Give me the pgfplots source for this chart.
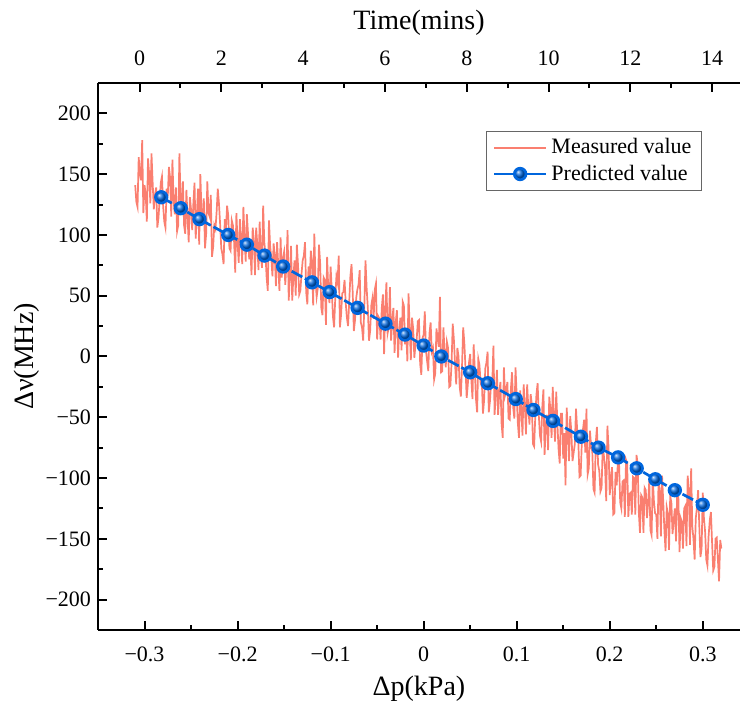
\documentclass[border=0pt]{standalone}
\usepackage{fontspec}
\setmainfont{Liberation Serif}
\usepackage{pgfplots}
\pgfplotsset{compat=1.18}
\definecolor{meascol}{RGB}{250,127,112}
\definecolor{predcol}{RGB}{0,102,221}
\begin{document}
\begin{tikzpicture}
\path[use as bounding box] (-49pt,-37pt) rectangle (321pt,315pt);
\begin{axis}[
  at={(0pt,0pt)}, anchor=south west,
  scale only axis, width=321pt, height=273.5pt,
  xmin=-0.35, xmax=0.34, ymin=-225, ymax=225,
  axis x line*=bottom, axis y line*=left,
  axis line style={line width=1pt, -},
  tick align=inside,
  major tick length=4.5pt, minor tick length=2.3pt,
  every tick/.style={black, line width=1pt},
  xtick={-0.3,-0.2,-0.1,0,0.1,0.2,0.3},
  xticklabels={−0.3,−0.2,−0.1,0,0.1,0.2,0.3},
  minor x tick num=1,
  ytick={-200,-150,-100,-50,0,50,100,150,200},
  yticklabels={−200,−150,−100,−50,0,50,100,150,200},
  minor y tick num=1,
  tick label style={font=\fontsize{11}{13}\selectfont},
  xticklabel style={yshift=-5pt},
  label style={font=\fontsize{14}{16}\selectfont},
  xlabel={Δp(kPa)}, ylabel={Δν(MHz)},
  ylabel style={yshift=-4pt},
  legend style={at={(rel axis cs:0.9408,0.9122)}, anchor=north east,
    draw=black!60, line width=0.6pt, font=\fontsize{11}{12.5}\selectfont,
    inner xsep=3pt, inner ysep=1.5pt, row sep=0pt},
  legend cell align=left,
  legend image code/.code={\draw[mark repeat=2,mark phase=2,#1] plot coordinates {(0pt,0pt) (13pt,0pt) (26pt,0pt)};},
  legend image post style={solid},
]
\addplot[meascol, line width=0.85pt, no marks] coordinates {
(-0.31000,141) (-0.30875,127) (-0.30750,123) (-0.30625,164) (-0.30500,151) (-0.30375,145) (-0.30250,178) (-0.30125,118) (-0.30000,141) (-0.29875,134)
(-0.29750,111) (-0.29625,163) (-0.29500,150) (-0.29375,126) (-0.29250,167) (-0.29125,143) (-0.29000,121) (-0.28875,133) (-0.28750,139) (-0.28625,106)
(-0.28500,114) (-0.28375,129) (-0.28250,143) (-0.28125,148) (-0.28000,124) (-0.27875,111) (-0.27750,106) (-0.27625,138) (-0.27500,132) (-0.27375,156)
(-0.27250,147) (-0.27125,115) (-0.27000,162) (-0.26875,128) (-0.26750,117) (-0.26625,139) (-0.26500,103) (-0.26375,108) (-0.26250,167) (-0.26125,129)
(-0.26000,123) (-0.25875,144) (-0.25750,108) (-0.25625,101) (-0.25500,137) (-0.25375,114) (-0.25250,94) (-0.25125,131) (-0.25000,121) (-0.24875,104)
(-0.24750,126) (-0.24625,143) (-0.24500,97) (-0.24375,116) (-0.24250,138) (-0.24125,92) (-0.24000,150) (-0.23875,119) (-0.23750,110) (-0.23625,130)
(-0.23500,89) (-0.23375,101) (-0.23250,144) (-0.23125,118) (-0.23000,115) (-0.22875,133) (-0.22750,82) (-0.22625,90) (-0.22500,108) (-0.22375,105)
(-0.22250,119) (-0.22125,138) (-0.22000,126) (-0.21875,109) (-0.21750,89) (-0.21625,84) (-0.21500,76) (-0.21375,113) (-0.21250,105) (-0.21125,124)
(-0.21000,116) (-0.20875,89) (-0.20750,87) (-0.20625,112) (-0.20500,108) (-0.20375,95) (-0.20250,69) (-0.20125,118) (-0.20000,94) (-0.19875,77)
(-0.19750,113) (-0.19625,98) (-0.19500,76) (-0.19375,123) (-0.19250,98) (-0.19125,78) (-0.19000,117) (-0.18875,101) (-0.18750,80) (-0.18625,89)
(-0.18500,67) (-0.18375,106) (-0.18250,96) (-0.18125,67) (-0.18000,106) (-0.17875,92) (-0.17750,71) (-0.17625,111) (-0.17500,84) (-0.17375,73)
(-0.17250,124) (-0.17125,94) (-0.17000,84) (-0.16875,65) (-0.16750,54) (-0.16625,112) (-0.16500,91) (-0.16375,81) (-0.16250,66) (-0.16125,93)
(-0.16000,83) (-0.15875,58) (-0.15750,94) (-0.15625,75) (-0.15500,54) (-0.15375,98) (-0.15250,65) (-0.15125,81) (-0.15000,86) (-0.14875,59)
(-0.14750,75) (-0.14625,104) (-0.14500,46) (-0.14375,67) (-0.14250,91) (-0.14125,46) (-0.14000,66) (-0.13875,79) (-0.13750,50) (-0.13625,92)
(-0.13500,75) (-0.13375,51) (-0.13250,54) (-0.13125,68) (-0.13000,79) (-0.12875,83) (-0.12750,94) (-0.12625,53) (-0.12500,43) (-0.12375,74)
(-0.12250,62) (-0.12125,87) (-0.12000,79) (-0.11875,42) (-0.11750,101) (-0.11625,63) (-0.11500,49) (-0.11375,56) (-0.11250,92) (-0.11125,77)
(-0.11000,40) (-0.10875,34) (-0.10750,65) (-0.10625,63) (-0.10500,26) (-0.10375,82) (-0.10250,55) (-0.10125,44) (-0.10000,74) (-0.09875,55)
(-0.09750,33) (-0.09625,24) (-0.09500,48) (-0.09375,66) (-0.09250,61) (-0.09125,83) (-0.09000,24) (-0.08875,34) (-0.08750,52) (-0.08625,53)
(-0.08500,63) (-0.08375,44) (-0.08250,32) (-0.08125,25) (-0.08000,45) (-0.07875,66) (-0.07750,76) (-0.07625,53) (-0.07500,21) (-0.07375,30)
(-0.07250,48) (-0.07125,55) (-0.07000,59) (-0.06875,71) (-0.06750,28) (-0.06625,24) (-0.06500,13) (-0.06375,41) (-0.06250,79) (-0.06125,56)
(-0.06000,40) (-0.05875,13) (-0.05750,21) (-0.05625,42) (-0.05500,48) (-0.05375,31) (-0.05250,55) (-0.05125,60) (-0.05000,14) (-0.04875,33)
(-0.04750,31) (-0.04625,14) (-0.04500,40) (-0.04375,51) (-0.04250,2) (-0.04125,40) (-0.04000,61) (-0.03875,19) (-0.03750,24) (-0.03625,57)
(-0.03500,13) (-0.03375,30) (-0.03250,40) (-0.03125,3) (-0.03000,28) (-0.02875,38) (-0.02750,-1) (-0.02625,21) (-0.02500,32) (-0.02375,5)
(-0.02250,45) (-0.02125,42) (-0.02000,10) (-0.01875,21) (-0.01750,-4) (-0.01625,52) (-0.01500,23) (-0.01375,-3) (-0.01250,32) (-0.01125,23)
(-0.01000,-1) (-0.00875,10) (-0.00750,14) (-0.00625,29) (-0.00500,30) (-0.00375,-6) (-0.00250,-15) (-0.00125,15) (0.00000,18) (0.00125,37)
(0.00250,5) (0.00375,-4) (0.00500,-12) (0.00625,19) (0.00750,28) (0.00875,4) (0.01000,7) (0.01125,-19) (0.01250,-14) (0.01375,23)
(0.01500,15) (0.01625,8) (0.01750,49) (0.01875,-13) (0.02000,-12) (0.02125,24) (0.02250,3) (0.02375,-9) (0.02500,12) (0.02625,7)
(0.02750,-25) (0.02875,-24) (0.03000,-6) (0.03125,27) (0.03250,14) (0.03375,-6) (0.03500,-23) (0.03625,7) (0.03750,0) (0.03875,-25)
(0.04000,-33) (0.04125,-8) (0.04250,24) (0.04375,11) (0.04500,-10) (0.04625,-34) (0.04750,-23) (0.04875,-5) (0.05000,2) (0.05125,-19)
(0.05250,-35) (0.05375,10) (0.05500,-11) (0.05625,-35) (0.05750,-46) (0.05875,-2) (0.06000,-7) (0.06125,-22) (0.06250,-20) (0.06375,-47)
(0.06500,-36) (0.06625,-10) (0.06750,-5) (0.06875,4) (0.07000,-46) (0.07125,-37) (0.07250,-22) (0.07375,-22) (0.07500,9) (0.07625,-48)
(0.07750,-32) (0.07875,-11) (0.08000,-48) (0.08125,-30) (0.08250,-21) (0.08375,-55) (0.08500,-67) (0.08625,-9) (0.08750,-32) (0.08875,-28)
(0.09000,-21) (0.09125,-51) (0.09250,-52) (0.09375,-27) (0.09500,-13) (0.09625,-42) (0.09750,-51) (0.09875,-9) (0.10000,-32) (0.10125,-55)
(0.10250,-67) (0.10375,-28) (0.10500,-44) (0.10625,-65) (0.10750,-23) (0.10875,-40) (0.11000,-64) (0.11125,-23) (0.11250,-42) (0.11375,-56)
(0.11500,-31) (0.11625,-39) (0.11750,-72) (0.11875,-74) (0.12000,-49) (0.12125,-31) (0.12250,-22) (0.12375,-48) (0.12500,-65) (0.12625,-70)
(0.12750,-42) (0.12875,-27) (0.13000,-81) (0.13125,-56) (0.13250,-48) (0.13375,-77) (0.13500,-33) (0.13625,-44) (0.13750,-67) (0.13875,-25)
(0.14000,-50) (0.14125,-70) (0.14250,-29) (0.14375,-55) (0.14500,-76) (0.14625,-88) (0.14750,-47) (0.14875,-47) (0.15000,-84) (0.15125,-63)
(0.15250,-106) (0.15375,-42) (0.15500,-63) (0.15625,-86) (0.15750,-49) (0.15875,-62) (0.16000,-86) (0.16125,-79) (0.16250,-72) (0.16375,-43)
(0.16500,-60) (0.16625,-70) (0.16750,-99) (0.16875,-98) (0.17000,-71) (0.17125,-60) (0.17250,-52) (0.17375,-79) (0.17500,-43) (0.17625,-97)
(0.17750,-92) (0.17875,-61) (0.18000,-74) (0.18125,-78) (0.18250,-109) (0.18375,-112) (0.18500,-71) (0.18625,-58) (0.18750,-89) (0.18875,-94)
(0.19000,-111) (0.19125,-108) (0.19250,-73) (0.19375,-82) (0.19500,-92) (0.19625,-119) (0.19750,-57) (0.19875,-75) (0.20000,-114) (0.20125,-101)
(0.20250,-91) (0.20375,-130) (0.20500,-129) (0.20625,-95) (0.20750,-106) (0.20875,-87) (0.21000,-87) (0.21125,-120) (0.21250,-125) (0.21375,-103)
(0.21500,-102) (0.21625,-132) (0.21750,-85) (0.21875,-88) (0.22000,-132) (0.22125,-113) (0.22250,-112) (0.22375,-130) (0.22500,-99) (0.22625,-100)
(0.22750,-130) (0.22875,-81) (0.23000,-88) (0.23125,-128) (0.23250,-145) (0.23375,-114) (0.23500,-116) (0.23625,-145) (0.23750,-108) (0.23875,-110)
(0.24000,-133) (0.24125,-121) (0.24250,-102) (0.24375,-143) (0.24500,-147) (0.24625,-100) (0.24750,-119) (0.24875,-129) (0.25000,-130) (0.25125,-150)
(0.25250,-101) (0.25375,-111) (0.25500,-148) (0.25625,-98) (0.25750,-119) (0.25875,-143) (0.26000,-160) (0.26125,-124) (0.26250,-129) (0.26375,-159)
(0.26500,-115) (0.26625,-120) (0.26750,-146) (0.26875,-135) (0.27000,-125) (0.27125,-152) (0.27250,-112) (0.27375,-115) (0.27500,-161) (0.27625,-133)
(0.27750,-136) (0.27875,-158) (0.28000,-125) (0.28125,-123) (0.28250,-156) (0.28375,-98) (0.28500,-109) (0.28625,-155) (0.28750,-92) (0.28875,-140)
(0.29000,-150) (0.29125,-167) (0.29250,-133) (0.29375,-124) (0.29500,-110) (0.29625,-139) (0.29750,-165) (0.29875,-158) (0.30000,-112) (0.30125,-133)
(0.30250,-144) (0.30375,-167) (0.30500,-172) (0.30625,-148) (0.30750,-135) (0.30875,-128) (0.31000,-153) (0.31125,-176) (0.31250,-173) (0.31375,-150)
(0.31500,-149) (0.31625,-167) (0.31750,-185) (0.31875,-151) (0.32000,-158)
};
\addlegendentry{Measured value}
\addplot[predcol, line width=1.35pt, dash pattern=on 6pt off 1.5pt, mark=ball, mark size=2.9pt, mark options={solid, ball color=predcol}] coordinates {
(-0.282,131) (-0.261,122) (-0.241,113) (-0.210,100) (-0.190,92) (-0.171,83) (-0.151,74) (-0.120,61) (-0.101,53) (-0.071,40)
(-0.041,27) (-0.020,18) (0.000,9) (0.019,0) (0.050,-13) (0.069,-22) (0.099,-35) (0.118,-44) (0.139,-53) (0.169,-66)
(0.188,-75) (0.209,-83) (0.229,-92) (0.249,-101) (0.270,-110) (0.300,-122)
};
\addlegendentry{Predicted value}
\end{axis}
\begin{axis}[
  at={(0pt,0pt)}, anchor=south west,
  scale only axis, width=321pt, height=273.5pt,
  xmin=-1.015, xmax=14.68, ymin=-225, ymax=225,
  axis x line*=top, axis y line=none,
  axis line style={line width=1pt, -},
  tick align=inside,
  major tick length=4.5pt, minor tick length=2.3pt,
  every tick/.style={black, line width=1pt},
  xtick={0,2,4,6,8,10,12,14},
  xticklabels={0,2,4,6,8,10,12,14},
  minor x tick num=1,
  tick label style={font=\fontsize{11}{13}\selectfont},
  xticklabel style={yshift=5pt},
  label style={font=\fontsize{14}{16}\selectfont},
  xlabel={Time(mins)},
  xlabel style={yshift=1pt},
]
\end{axis}
\end{tikzpicture}
\end{document}
